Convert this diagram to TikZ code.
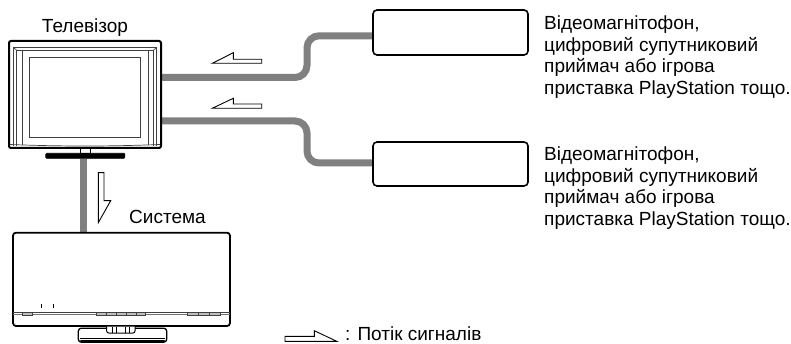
\documentclass[tikz,border=0pt]{standalone}
\usepackage{fontspec}
\setmainfont{Liberation Sans}
\usetikzlibrary{backgrounds}
\definecolor{cablegray}{RGB}{128,128,128}
\tikzset{
 cable/.style={draw=cablegray, line width=7pt, rounded corners=12pt},
 devbox/.style={draw, line width=1.6pt, rounded corners=4pt, fill=white, inner sep=0pt},
 flowarrow/.style={draw, line width=0.9pt, fill=white, line join=miter},
 thinline/.style={draw=black!75, line width=0.7pt},
 lbl/.style={inner sep=0pt, font=\fontsize{19}{22}\selectfont, anchor=base west},
}
\begin{document}
\begin{tikzpicture}[x=1pt,y=-1pt]
\useasboundingbox (0,0) rectangle (791,344);
% ---------- TV ----------
\node[draw, line width=2pt, rounded corners=2pt, minimum width=152pt, minimum height=107pt, inner sep=0pt] (tv) at (85,94.5) {};
\draw[thinline] (13.5,146) -- (13.5,47.7) -- (156.5,47.7) -- (156.5,146);
\draw[thinline] (16.5,146) -- (16.5,50) -- (153.5,50) -- (153.5,146);
\draw[thinline] (13.5,47.7) -- (16.5,50) (156.5,47.7) -- (153.5,50);
\draw[thinline] (22,50) -- (22,145.5) (148,50) -- (148,145.5);
\draw[thinline] (29.3,57.7) rectangle (140.7,137.3);
\draw[thinline] (10,144.5) .. controls (60,146.5) and (110,146.5) .. (160,144.5);
\node[draw, line width=0.9pt, fill=white, minimum width=10.7pt, minimum height=5pt, inner sep=0pt] (tvneck) at (85.3,150.8) {};
\node[draw, fill=black, line width=0.8pt, rounded corners=1pt, minimum width=79pt, minimum height=5pt, inner sep=0pt] (tvbase) at (85.3,155.8) {};
% ---------- System ----------
\node[draw, line width=1.8pt, rounded corners=3pt, minimum width=217pt, minimum height=93.3pt, inner sep=0pt] (sys) at (121.5,279.35) {};
\draw[thinline] (13,312.7) -- (230,312.7);
\draw[draw=black!55, line width=0.6pt] (13,314.4) -- (230,314.4);
\draw[thinline, fill=black!25] (22.7,312.2) rectangle (32.7,315.4);
\foreach \i in {0,...,4} {
  \draw[thinline, fill=black!25] (96.7+\i*9.8,312.2) rectangle (106.5+\i*9.8,315.4);
}
\foreach \i in {0,...,2} {
  \draw[thinline, fill=black!25] (187.3+\i*11.13,312.2) rectangle (198.43+\i*11.13,315.4);
}
\draw[line width=1pt] (41.7,304) -- (41.7,308.3) (53.3,304) -- (53.3,308.3);
% stand
\node[draw, line width=1.3pt, rounded corners=3pt, fill=white, minimum width=88.4pt, minimum height=14pt, inner sep=0pt] (sysbase) at (122.5,335.2) {};
\draw[line width=0.7pt] (80,338.3) -- (165,338.3);
\draw[line width=2pt, line cap=round] (81,341.3) -- (164,341.3);
\draw[line width=1pt, fill=white, rounded corners=2pt] (106.7,326.5) -- (106.7,333) -- (135,333) -- (135,326.5);
\draw[line width=0.7pt] (112.7,327) -- (112.7,332.5) (116.7,327) -- (116.7,332.5) (125.5,327) -- (125.5,332.5) (129.5,327) -- (129.5,332.5);
% ---------- Source boxes ----------
\node[devbox, minimum width=155pt, minimum height=45pt] (vcr1) at (450.5,32.5) {};
\node[devbox, minimum width=155pt, minimum height=44pt] (vcr2) at (450.5,164) {};
% ---------- Cables ----------
\coordinate (ya) at (0,77.5);
\coordinate (yb) at (0,35.8);
\coordinate (yc) at (0,121);
\coordinate (yd) at (0,163);
\coordinate (xv) at (83.5,0);
\begin{scope}[on background layer]
\draw[cable] (tv.east |- ya) -- (307,77.5) -- (307,35.8) -- (vcr1.west |- yb);
\draw[cable] (tv.east |- yc) -- (307,121) -- (307,163) -- (vcr2.west |- yd);
\draw[draw=cablegray, line width=7pt] (tvbase.south -| xv) -- (sys.north -| xv);
\end{scope}
% ---------- Signal flow arrows ----------
\draw[flowarrow] (212.3,63.3) -- (233.3,52.7) -- (233.3,59.3) -- (261.7,59.3) -- (261.7,63.3) -- cycle;
\draw[flowarrow] (212.3,108.3) -- (233.3,98.3) -- (233.3,104) -- (261.7,104) -- (261.7,108.3) -- cycle;
\draw[flowarrow] (98.3,172.7) -- (104,172.7) -- (104,200.7) -- (110.7,200.7) -- (98.3,222.7) -- cycle;
\draw[flowarrow] (285,336.3) -- (314.3,336.3) -- (314.3,330.7) -- (336.7,341.3) -- (285,341.3) -- cycle;
% ---------- Labels ----------
\node[lbl, anchor=base] (tvlabel) at (85,32.3) {Телевізор};
\node[lbl, anchor=base] (syslabel) at (167.5,224) {Система};
\node[lbl] (t1a) at (544,30) {Відеомагнітофон,};
\node[lbl] (t1b) at (544,51.5) {цифровий супутниковий};
\node[lbl] (t1c) at (544,73) {приймач або ігрова};
\node[lbl] (t1d) at (544,94.5) {приставка PlayStation тощо.};
\node[lbl] (t2a) at (544,160.7) {Відеомагнітофон,};
\node[lbl] (t2b) at (544,182.2) {цифровий супутниковий};
\node[lbl] (t2c) at (544,203.7) {приймач або ігрова};
\node[lbl] (t2d) at (544,225.2) {приставка PlayStation тощо.};
\node[lbl] (legend) at (345,340) {: Потік сигналів};
\end{tikzpicture}
\end{document}
